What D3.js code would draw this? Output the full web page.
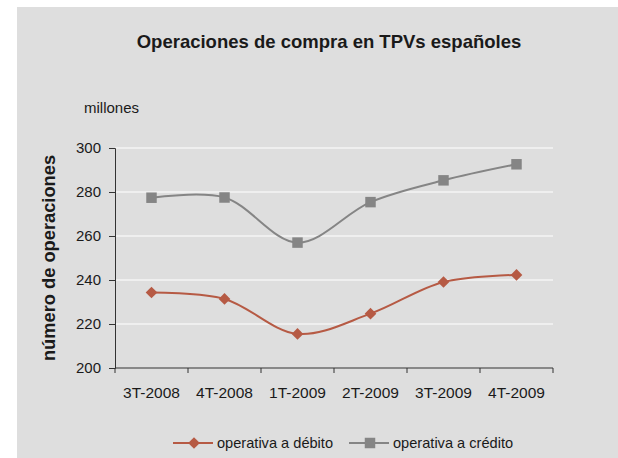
<!DOCTYPE html>
<html>
<head>
<meta charset="utf-8">
<script src="https://cdn.jsdelivr.net/npm/d3@7"></script>
<style>
  body { margin: 0; background: #ffffff; }
  text { font-family: "Liberation Sans", Arial, sans-serif; fill: #1a1a1a; }
</style>
</head>
<body>
<svg width="618" height="458"></svg>
<script>
// ---- data ----
var categories = ["3T-2008", "4T-2008", "1T-2009", "2T-2009", "3T-2009", "4T-2009"];
var debito = [234.3, 231.4, 215.5, 224.7, 239.1, 242.3];
var credito = [277.4, 277.5, 257.0, 275.4, 285.3, 292.6];
var yTicks = [200, 220, 240, 260, 280, 300];
var seriesNames = ["operativa a débito", "operativa a crédito"];

// ---- layout ----
var svg = d3.select("svg");
var pLeft = 115, pRight = 553, pTop = 148, pBottom = 368;

svg.append("rect")
  .attr("x", 17).attr("y", 7)
  .attr("width", 601).attr("height", 451)
  .attr("fill", "#dedede");

var x = d3.scaleBand().domain(categories).range([pLeft, pRight]);
var y = d3.scaleLinear().domain([200, 300]).range([pBottom, pTop]);

// gridlines
svg.append("g")
  .selectAll("line")
  .data(yTicks.slice(1))
  .enter().append("line")
  .attr("x1", pLeft).attr("x2", pRight)
  .attr("y1", function (d) { return y(d); })
  .attr("y2", function (d) { return y(d); })
  .attr("stroke", "#ffffff")
  .attr("stroke-width", 1.2);

// y axis
var yAxis = svg.append("g")
  .attr("transform", "translate(" + pLeft + ",0)")
  .call(d3.axisLeft(y).tickValues(yTicks).tickSize(6).tickPadding(8));
yAxis.select(".domain").attr("stroke", "#333");
yAxis.selectAll(".tick line").attr("stroke", "#333");
yAxis.selectAll("text").attr("font-size", "15px").attr("fill", "#1a1a1a")
  .style("font-family", "Liberation Sans, Arial, sans-serif");

// x axis: ticks on category boundaries
var xAxis = svg.append("g")
  .attr("transform", "translate(0," + pBottom + ")");
xAxis.append("line")
  .attr("x1", pLeft).attr("x2", pRight)
  .attr("y1", 0).attr("y2", 0)
  .attr("stroke", "#333");
var bounds = categories.map(function (c) { return x(c); }).concat([pRight]);
xAxis.selectAll(".bt")
  .data(bounds)
  .enter().append("line")
  .attr("x1", function (d) { return d; })
  .attr("x2", function (d) { return d; })
  .attr("y1", 0).attr("y2", 5)
  .attr("stroke", "#333");
xAxis.selectAll(".lbl")
  .data(categories)
  .enter().append("text")
  .attr("x", function (d) { return x(d) + x.bandwidth() / 2; })
  .attr("y", 30)
  .attr("text-anchor", "middle")
  .attr("font-size", "15.5px")
  .text(function (d) { return d; });

// titles
svg.append("text")
  .attr("x", 329).attr("y", 48)
  .attr("text-anchor", "middle")
  .attr("font-size", "18.5px")
  .attr("font-weight", "bold")
  .text("Operaciones de compra en TPVs españoles");

svg.append("text")
  .attr("x", 84).attr("y", 113)
  .attr("font-size", "15px")
  .text("millones");

svg.append("text")
  .attr("transform", "translate(55," + ((pTop + pBottom) / 2) + ") rotate(-90)")
  .attr("text-anchor", "middle")
  .attr("font-size", "18.3px")
  .attr("font-weight", "bold")
  .text("número de operaciones");

// ---- lines ----
var line = d3.line()
  .x(function (d, i) { return x(categories[i]) + x.bandwidth() / 2; })
  .y(function (d) { return y(d); })
  .curve(d3.curveCatmullRom.alpha(0.5));

var colDeb = "#b65a44", colCre = "#858585";

svg.append("path").datum(credito)
  .attr("d", line).attr("fill", "none")
  .attr("stroke", colCre).attr("stroke-width", 2);
svg.append("path").datum(debito)
  .attr("d", line).attr("fill", "none")
  .attr("stroke", colDeb).attr("stroke-width", 2);

var sq = d3.symbol().type(d3.symbolSquare).size(110);
var dm = d3.symbol().type(d3.symbolSquare).size(68); // rotated 45deg below

svg.append("g").selectAll("path")
  .data(credito)
  .enter().append("path")
  .attr("d", sq)
  .attr("transform", function (d, i) { return "translate(" + (x(categories[i]) + x.bandwidth() / 2) + "," + y(d) + ")"; })
  .attr("fill", colCre);
svg.append("g").selectAll("path")
  .data(debito)
  .enter().append("path")
  .attr("d", dm)
  .attr("transform", function (d, i) { return "translate(" + (x(categories[i]) + x.bandwidth() / 2) + "," + y(d) + ") rotate(45)"; })
  .attr("fill", colDeb);

// ---- legend ----
var legend = svg.append("g");
var legItems = [
  { name: seriesNames[0], color: colDeb, sym: dm, rot: 45, x0: 173 },
  { name: seriesNames[1], color: colCre, sym: sq, rot: 0, x0: 349 }
];
legItems.forEach(function (it) {
  legend.append("line")
    .attr("x1", it.x0).attr("x2", it.x0 + 40)
    .attr("y1", 443).attr("y2", 443)
    .attr("stroke", it.color).attr("stroke-width", 2);
  legend.append("path")
    .attr("d", it.sym)
    .attr("transform", "translate(" + (it.x0 + 21) + ",443) rotate(" + it.rot + ")")
    .attr("fill", it.color);
  legend.append("text")
    .attr("x", it.x0 + 44).attr("y", 448)
    .attr("font-size", "14.6px")
    .text(it.name);
});
</script>
</body>
</html>
